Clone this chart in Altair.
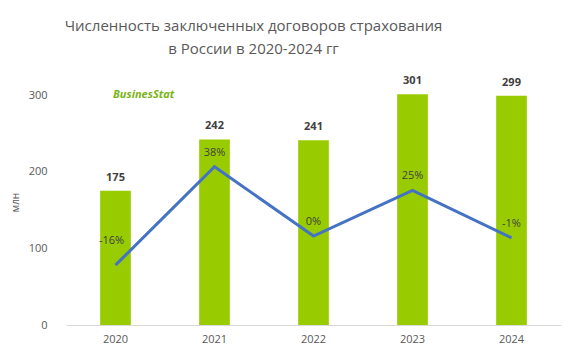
import altair as alt
import pandas as pd

years = ["2020", "2021", "2022", "2023", "2024"]
contracts = [175, 242, 241, 301, 299]
growth = [-0.16, 0.38, 0.00, 0.25, -0.01]

df = pd.DataFrame({
    "year": years,
    "value": contracts,
    "growth": growth,
    "glabel": [f"{round(g * 100)}%" for g in growth],
})

FONT = "Open Sans"
x = alt.X("year:N", title=None, sort=years,
          scale=alt.Scale(paddingInner=0.69, paddingOuter=0.345),
          axis=alt.Axis(labelAngle=0, labelFontSize=11, labelColor="#595959", labelFont=FONT,
                        domainColor="#d9d9d9", ticks=False, labelPadding=8))

y = alt.Y("value:Q", scale=alt.Scale(domain=[0, 300]),
          axis=alt.Axis(values=[0, 100, 200, 300], title="млн", grid=False, domain=False,
                        ticks=False, labelPadding=19, labelFontSize=11, labelColor="#595959",
                        labelFont=FONT, titleFont=FONT, titleFontSize=10, titleFontWeight="normal",
                        titleColor="#595959", titleX=-51, titleY=107, titleAngle=-90,
                        titleAlign="center", titleBaseline="middle"))

base = alt.Chart(df)

bars = base.mark_bar(color="#99cc00").encode(x=x, y=y)
bar_labels = base.mark_text(dy=-13, fontSize=11, fontWeight="bold", color="#404040", font=FONT).encode(
    x=alt.X("year:N", sort=years), y=alt.Y("value:Q"), text="value:Q")

left = alt.layer(bars, bar_labels)

gscale = alt.Scale(domain=[-0.488, 0.773])
line = base.mark_line(color="#4472c4", strokeWidth=3).encode(
    x=alt.X("year:N", sort=years), y=alt.Y("growth:Q", scale=gscale, axis=None))
glabels = base.transform_filter(alt.datum.year != "2020").mark_text(
    dy=-14, fontSize=11, color="#404040", font=FONT).encode(
    x=alt.X("year:N", sort=years), y=alt.Y("growth:Q", scale=gscale, axis=None), text="glabel:N")
glabel_first = base.transform_filter(alt.datum.year == "2020").mark_text(
    dy=-24, dx=-4, fontSize=11, color="#404040", font=FONT).encode(
    x=alt.X("year:N", sort=years), y=alt.Y("growth:Q", scale=gscale, axis=None), text="glabel:N")

right = alt.layer(line, glabels, glabel_first)

logo = alt.Chart(pd.DataFrame({"t": ["BusinesStat"]})).mark_text(
    fontSize=11, fontWeight="bold", fontStyle="italic", color="#7ab317", font=FONT,
    align="left", baseline="middle").encode(
    x=alt.value(47), y=alt.value(0), text="t:N")

chart = alt.layer(left, right, logo).resolve_scale(y="independent").properties(
    width=495, height=230,
    autosize=alt.AutoSizeParams(type="none"),
    padding={"left": 58, "top": 87, "right": 11, "bottom": 30},
    title=alt.TitleParams(
        text=["Численность заключенных договоров страхования", "в России в 2020-2024 гг"],
        anchor="middle", dx=-60, offset=18, fontSize=15, fontWeight="normal",
        color="#595959", font=FONT, lineHeight=23),
).configure_view(stroke=None)

chart.save("out.html", embed_options={"renderer": "svg", "actions": False})
